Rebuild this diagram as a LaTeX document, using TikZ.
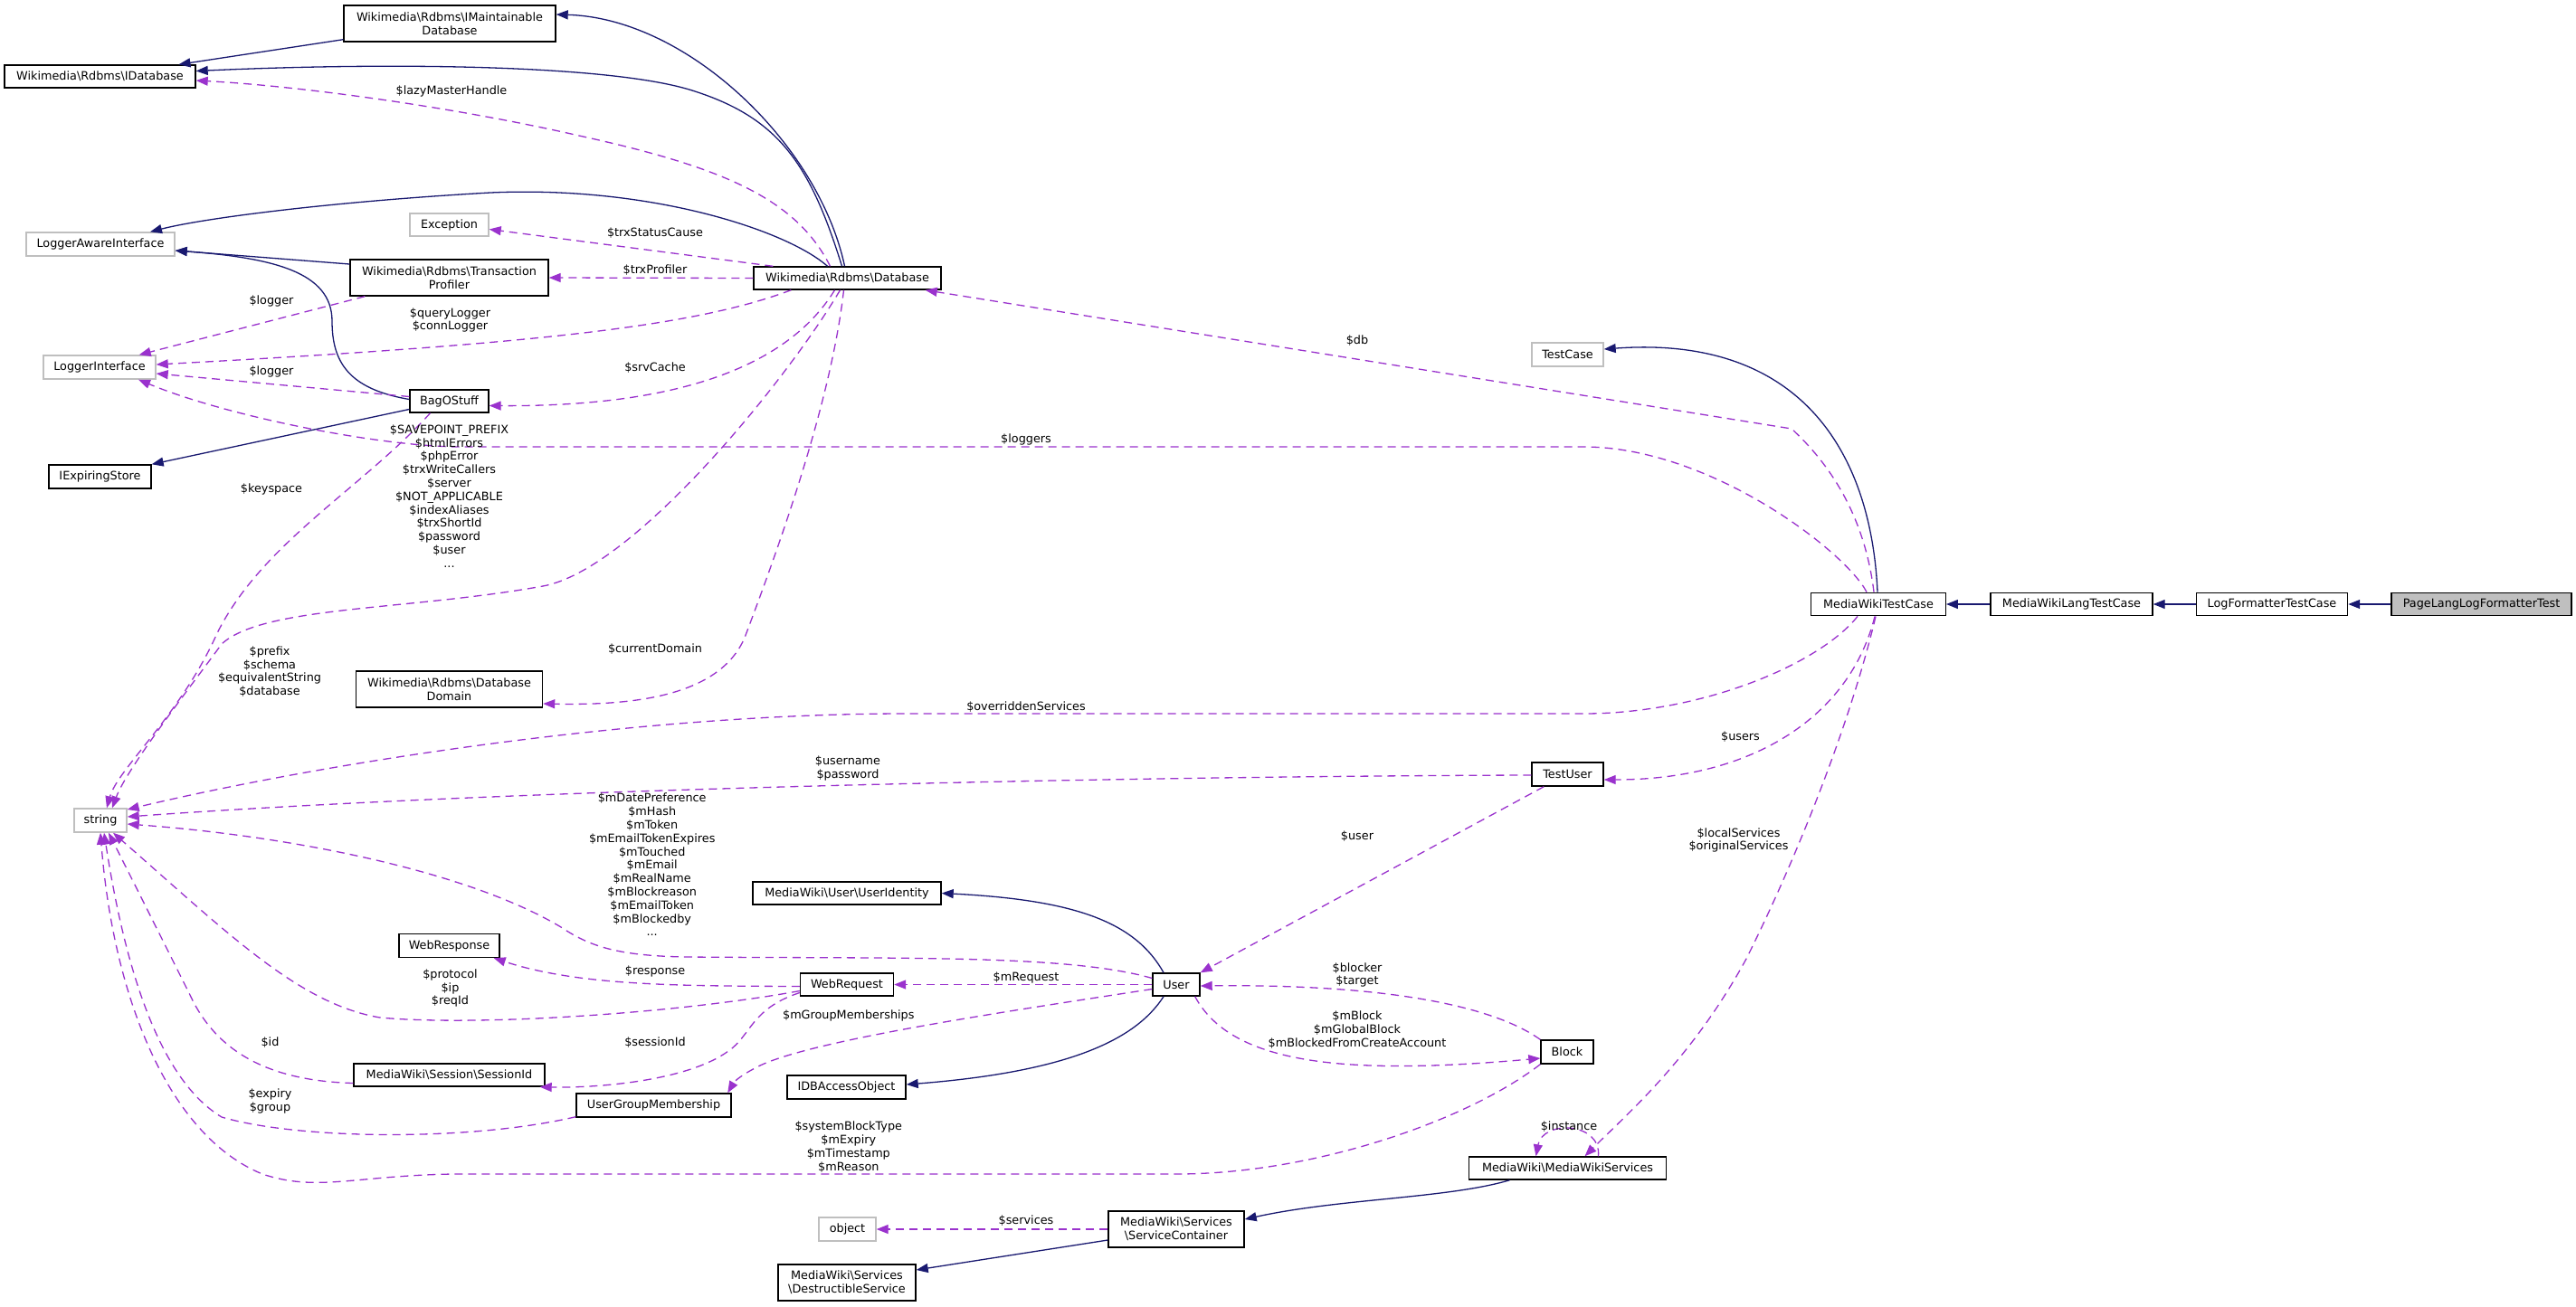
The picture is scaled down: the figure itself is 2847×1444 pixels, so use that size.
\documentclass[tikz,border=0pt]{standalone}
\usepackage{fontspec}
\setmainfont{DejaVu Sans}
\usetikzlibrary{arrows.meta,calc}
\definecolor{mblue}{HTML}{191970}
\definecolor{dorchid}{HTML}{9A32CD}
\definecolor{ngray}{HTML}{BFBFBF}
\newcommand{\dxbs}{\textbackslash}
\newcommand{\dxfont}{\fontsize{12.8}{15}\selectfont}
\begin{document}
\begin{tikzpicture}[x=1pt,y=-1pt,
  cls/.style={draw=black, line width=1.4pt, fill=white, inner sep=0pt, align=center, font=\dxfont},
  ucls/.style={cls, draw=ngray},
  mcls/.style={cls, fill=ngray},
  inh/.style={draw=mblue, line width=1.3pt, -{Triangle[length=13pt,width=10pt]}},
  use/.style={draw=dorchid, line width=1.3pt, dash pattern=on 9pt off 6pt, -{Triangle[length=13pt,width=10pt]}},
  lbl/.style={font=\fontsize{12.8}{14.8}\selectfont, align=center, inner sep=0pt}]
\fill[white] (0,0) rectangle (2847,1444);
\useasboundingbox (0,0) rectangle (2847,1444);

% nodes
\node[cls, minimum width=234pt, minimum height=40pt] (imdb) at (497,26) {Wikimedia\dxbs Rdbms\dxbs IMaintainable\\Database};
\node[cls, minimum width=211pt, minimum height=25pt] (idb) at (110.5,84.5) {Wikimedia\dxbs Rdbms\dxbs IDatabase};
\node[ucls, minimum width=164pt, minimum height=26pt] (lai) at (111,270) {LoggerAwareInterface};
\node[ucls, minimum width=87pt, minimum height=25pt] (exc) at (496.5,248.5) {Exception};
\node[cls, minimum width=219pt, minimum height=40pt] (tp) at (496.5,307) {Wikimedia\dxbs Rdbms\dxbs Transaction\\Profiler};
\node[cls, minimum width=207pt, minimum height=25pt] (db) at (936.5,307.5) {Wikimedia\dxbs Rdbms\dxbs Database};
\node[ucls, minimum width=124pt, minimum height=26pt] (li) at (110,406) {LoggerInterface};
\node[cls, minimum width=87pt, minimum height=25pt] (bag) at (496.5,443.5) {BagOStuff};
\node[cls, minimum width=113pt, minimum height=26pt] (ies) at (110.5,527) {IExpiringStore};
\node[cls, minimum width=206pt, minimum height=40pt] (dd) at (496.5,762) {Wikimedia\dxbs Rdbms\dxbs Database\\Domain};
\node[ucls, minimum width=58pt, minimum height=26pt] (str) at (111,907) {string};
\node[cls, minimum width=111pt, minimum height=26pt] (wresp) at (496.5,1045.5) {WebResponse};
\node[cls, minimum width=103pt, minimum height=25pt] (wreq) at (936,1088.5) {WebRequest};
\node[cls, minimum width=211pt, minimum height=25pt] (sid) at (496.5,1188.5) {MediaWiki\dxbs Session\dxbs SessionId};
\node[cls, minimum width=171pt, minimum height=26pt] (ugm) at (722.5,1222) {UserGroupMembership};
\node[cls, minimum width=208pt, minimum height=25pt] (uid) at (936,987.5) {MediaWiki\dxbs User\dxbs UserIdentity};
\node[cls, minimum width=52pt, minimum height=25pt] (user) at (1300,1088.5) {User};
\node[cls, minimum width=131pt, minimum height=26pt] (idbao) at (935.5,1202) {IDBAccessObject};
\node[cls, minimum width=58pt, minimum height=26pt] (block) at (1732,1163) {Block};
\node[cls, minimum width=218pt, minimum height=25pt] (mws) at (1732.5,1291.5) {MediaWiki\dxbs MediaWikiServices};
\node[cls, minimum width=150pt, minimum height=40pt] (sc) at (1300,1359) {MediaWiki\dxbs Services\\\dxbs ServiceContainer};
\node[ucls, minimum width=63pt, minimum height=26pt] (obj) at (936.5,1359) {object};
\node[cls, minimum width=152pt, minimum height=40pt] (ds) at (936,1418) {MediaWiki\dxbs Services\\\dxbs DestructibleService};
\node[ucls, minimum width=79pt, minimum height=26pt] (tc) at (1732.5,392) {TestCase};
\node[cls, minimum width=79pt, minimum height=26pt] (tu) at (1732.5,856) {TestUser};
\node[cls, minimum width=148.5pt, minimum height=25.5pt] (mwtc) at (2076,668) {MediaWikiTestCase};
\node[cls, minimum width=179pt, minimum height=25.5pt] (mwltc) at (2289.5,668) {MediaWikiLangTestCase};
\node[cls, minimum width=167pt, minimum height=25.5pt] (lftc) at (2511,668) {LogFormatterTestCase};
\node[mcls, minimum width=199pt, minimum height=25.5pt] (plft) at (2742.5,668) {PageLangLogFormatterTest};

% inheritance edges
\draw[inh] ($(imdb.south west)+(0,-3)$) -- ($(idb.north)+(87,0)$);
\draw[inh] ($(db.north)+(-3,0)$) .. controls (905,160) and (760,20) .. ($(imdb.east)+(0,-10)$);
\draw[inh] ($(db.north)+(-6,0)$) .. controls (895,180) and (860,130) .. (765,100) .. controls (680,73) and (450,68) .. ($(idb.east)+(0,-6)$);
\draw[inh] ($(db.north)+(-22,0)$) .. controls (870,255) and (720,205) .. (542,213) .. controls (380,222) and (230,240) .. ($(lai.north)+(55,0)$);
\draw[inh] ($(tp.west)+(0,-15)$) -- ($(lai.east)+(0,7)$);
\draw[inh] ($(bag.west)+(0,-2)$) .. controls (385,430) and (367,400) .. (367,355) .. controls (367,300) and (300,285) .. ($(lai.east)+(0,7)$);
\draw[inh] ($(bag.west)+(0,9)$) -- (ies.north east);
\draw[inh] ($(mwtc.north)+(-1,0)$) .. controls (2068,500) and (1990,370) .. ($(tc.east)+(0,-6)$);
\draw[inh] (mwltc.west) -- (mwtc.east);
\draw[inh] (lftc.west) -- (mwltc.east);
\draw[inh] (plft.west) -- (lftc.east);
\draw[inh] ($(user.north)+(-14,0)$) .. controls (1255,1020) and (1190,995) .. (uid.east);
\draw[inh] ($(user.south)+(-14,0)$) .. controls (1255,1150) and (1180,1185) .. ($(idbao.east)+(0,-3)$);
\draw[inh] ($(mws.south)+(-64,0)$) .. controls (1600,1325) and (1480,1325) .. ($(sc.east)+(0,-11)$);
\draw[inh] ($(sc.west)+(0,12)$) -- ($(ds.east)+(0,-14)$);

% usage edges
\draw[use] ($(db.north)+(-19,0)$) .. controls (880,220) and (800,185) .. (640,150) .. controls (500,118) and (330,95) .. ($(idb.east)+(0,4.5)$);
\draw[use] ($(db.north west)+(22,0)$) -- ($(exc.east)+(0,5)$);
\draw[use] (db.west) -- (tp.east);
\draw[use] ($(db.south west)+(42,0)$) .. controls (770,360) and (600,380) .. ($(li.east)+(0,-3)$);
\draw[use] ($(tp.south west)+(17,0)$) -- ($(li.north east)+(-19,0)$);
\draw[use] ($(bag.west)+(0,-5)$) -- ($(li.east)+(0,7)$);
\draw[use] ($(db.south)+(-14,0)$) .. controls (880,390) and (780,450) .. ($(bag.east)+(0,5)$);
\draw[use] ($(db.south)+(-4,0)$) .. controls (918,450) and (855,620) .. (823,705) .. controls (795,770) and (700,780) .. ($(dd.east)+(0,16)$);
\draw[use] ($(db.south)+(-8,0)$) .. controls (870,420) and (700,630) .. (600,648) .. controls (450,675) and (290,670) .. (245,712) .. controls (210,760) and (140,850) .. ($(str.north)+(13,0)$);
\draw[use] ($(bag.south)+(-21,0)$) .. controls (400,540) and (290,600) .. (240,700) .. controls (200,790) and (130,850) .. ($(str.north)+(7,0)$);
\draw[use] ($(mwtc.north)+(-5,0)$) .. controls (2062,580) and (2030,520) .. (1980,474) -- ($(db.south east)+(-18,0)$);
\draw[use] ($(mwtc.north)+(-13,0)$) .. controls (2040,610) and (1890,494) .. (1750,494) -- (510,494) .. controls (420,494) and (250,460) .. ($(li.south)+(43,0)$);
\draw[use] ($(mwtc.south)+(-23,0)$) .. controls (2010,735) and (1880,789) .. (1750,789) -- (1000,789) .. controls (700,789) and (350,845) .. ($(str.east)+(0,-12)$);
\draw[use] ($(tu.west)+(0,1)$) .. controls (1300,858) and (600,870) .. ($(str.east)+(0,-4)$);
\draw[use] ($(mwtc.south)+(-4,0)$) .. controls (2045,790) and (1940,862) .. ($(tu.east)+(0,6)$);
\draw[use] ($(mwtc.south)+(-3,0)$) .. controls (2045,800) and (1985,950) .. (1930,1060) .. controls (1870,1170) and (1800,1230) .. ($(mws.north)+(19,0)$);
\draw[use] ($(mws.north)+(34,0)$) .. controls (1770,1240) and (1705,1238) .. ($(mws.north)+(-35,0)$);
\draw[use] ($(user.west)+(0,-7)$) .. controls (1180,1055) and (1000,1060) .. (760,1058) .. controls (680,1057) and (650,1045) .. (620,1025) .. controls (520,965) and (330,925) .. ($(str.east)+(0,4)$);
\draw[use] (user.west) -- (wreq.east);
\draw[use] ($(wreq.west)+(0,2)$) .. controls (750,1090) and (640,1090) .. ($(wresp.south east)+(-7,0)$);
\draw[use] ($(wreq.west)+(0,7)$) .. controls (750,1120) and (530,1135) .. (420,1125) .. controls (330,1110) and (250,1030) .. ($(str.south)+(14,0)$);
\draw[use] ($(wreq.west)+(0,9)$) .. controls (830,1115) and (830,1145) .. (805,1162) .. controls (760,1195) and (660,1203) .. ($(sid.south east)+(-6,0)$);
\draw[use] ($(sid.west)+(0,9)$) .. controls (300,1195) and (240,1165) .. (210,1100) .. controls (180,1040) and (145,970) .. ($(str.south)+(9,0)$);
\draw[use] ($(user.west)+(0,5)$) .. controls (1100,1120) and (900,1150) .. (840,1178) .. controls (820,1188) and (812,1195) .. ($(ugm.north east)+(-4.5,0)$);
\draw[use] ($(ugm.south west)+(0,-1)$) .. controls (520,1262) and (330,1260) .. (245,1235) .. controls (170,1190) and (135,1050) .. ($(str.south)+(4,0)$);
\draw[use] (block.south west) .. controls (1620,1240) and (1450,1298) .. (1300,1298) -- (500,1298) .. controls (390,1300) and (350,1318) .. (290,1298) .. controls (185,1255) and (125,1100) .. (str.south);
\draw[use] ($(user.south east)+(-6,0)$) .. controls (1360,1175) and (1480,1190) .. ($(block.west)+(0,7)$);
\draw[use] (block.north west) .. controls (1640,1105) and (1500,1088) .. ($(user.east)+(0,1.5)$);
\draw[use] ($(tu.south west)+(14,0)$) -- (user.north east);
\draw[use] (sc.west) -- (obj.east);

% labels
\node[lbl] (l1) at (499,100.7) {\$lazyMasterHandle};
\node[lbl] (l2) at (724,257.7) {\$trxStatusCause};
\node[lbl] (l3) at (724,298.7) {\$trxProfiler};
\node[lbl] (l4) at (497.5,354) {\$queryLogger\\\$connLogger};
\node[lbl] (l5) at (300,332.7) {\$logger};
\node[lbl] (l6) at (300,410.7) {\$logger};
\node[lbl] (l7) at (724,406.7) {\$srvCache};
\node[lbl] (l8) at (724,717.7) {\$currentDomain};
\node[lbl] (l9) at (496.5,548.5) {\$SAVEPOINT\_PREFIX\\\$htmlErrors\\\$phpError\\\$trxWriteCallers\\\$server\\\$NOT\_APPLICABLE\\\$indexAliases\\\$trxShortId\\\$password\\\$user\\...};
\node[lbl] (l10) at (300,540.7) {\$keyspace};
\node[lbl] (l11) at (298,742.5) {\$prefix\\\$schema\\\$equivalentString\\\$database};
\node[lbl] (l12) at (1500,377) {\$db};
\node[lbl] (l13) at (1134,486) {\$loggers};
\node[lbl] (l14) at (1134,782) {\$overriddenServices};
\node[lbl] (l15) at (1923.5,814.7) {\$users};
\node[lbl] (l16) at (937,849.5) {\$username\\\$password};
\node[lbl] (l17) at (1921.5,929) {\$localServices\\\$originalServices};
\node[lbl] (l18) at (1734,1246) {\$instance};
\node[lbl] (l19) at (720.7,956) {\$mDatePreference\\\$mHash\\\$mToken\\\$mEmailTokenExpires\\\$mTouched\\\$mEmail\\\$mRealName\\\$mBlockreason\\\$mEmailToken\\\$mBlockedby\\...};
\node[lbl] (l20) at (1134,1080.7) {\$mRequest};
\node[lbl] (l21) at (724,1073.5) {\$response};
\node[lbl] (l22) at (497.5,1092.5) {\$protocol\\\$ip\\\$reqId};
\node[lbl] (l23) at (724,1152.5) {\$sessionId};
\node[lbl] (l24) at (298.5,1152.5) {\$id};
\node[lbl] (l25) at (937.8,1122.7) {\$mGroupMemberships};
\node[lbl] (l26) at (298.5,1217.5) {\$expiry\\\$group};
\node[lbl] (l27) at (937.8,1268) {\$systemBlockType\\\$mExpiry\\\$mTimestamp\\\$mReason};
\node[lbl] (l28) at (1500,1138.5) {\$mBlock\\\$mGlobalBlock\\\$mBlockedFromCreateAccount};
\node[lbl] (l29) at (1500,1078) {\$blocker\\\$target};
\node[lbl] (l30) at (1500,925) {\$user};
\node[lbl] (l31) at (1134,1350) {\$services};
\end{tikzpicture}
\end{document}
